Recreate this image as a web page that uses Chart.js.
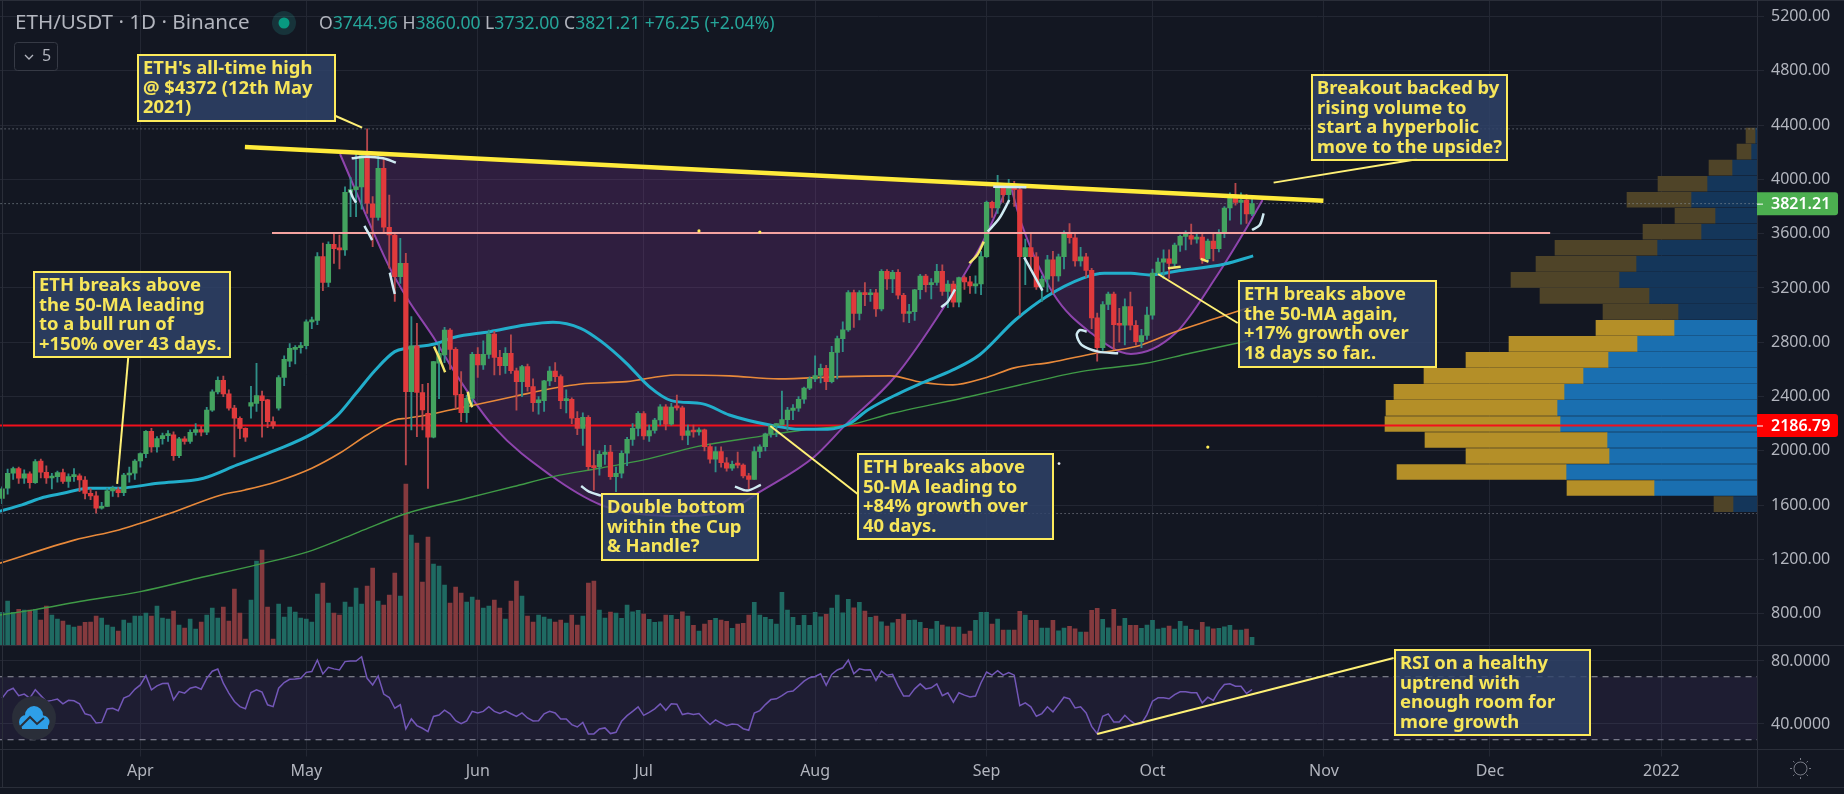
<!DOCTYPE html>
<html>
<head>
<meta charset="utf-8">
<title>ETH/USDT 1D</title>
<script src="https://cdn.jsdelivr.net/npm/chart.js@4"></script>
<style>
  html, body { margin: 0; padding: 0; background: #131722; overflow: hidden; }
  canvas { display: block; }
</style>
</head>
<body>
<canvas id="chart" width="1844" height="794"></canvas>
<script>
// x axis is "days since 1 Apr 2021"
const firstDay = -25;
const opens = [1650,1725,1835,1870,1798,1830,1765,1925,1842,1800,1810,1840,1775,1810,1815,1785,1687,1668,1577,1590,1705,1712,1692,1822,1835,
  1925,1980,2143,2028,2090,2112,2118,1965,2088,2070,2136,2157,2137,2300,2435,2520,2420,2315,2240,2165,2330,2350,2405,2375,2215,2315,2540,2660,2748,2760,
  2775,2950,2960,3431,3240,3522,3490,3480,3905,3925,3945,4175,3820,3720,4081,3647,3590,3283,3381,2436,2773,2430,2277,2100,2645,2706,2890,2748,2417,2281,2387,
  2711,2633,2711,2861,2689,2628,2718,2590,2510,2620,2473,2355,2370,2515,2588,2547,2370,2380,2240,2166,2247,1884,1884,1974,1990,1810,1835,1982,2085,2166,
  2275,2110,2150,2227,2325,2197,2322,2316,2114,2147,2139,2155,2031,1938,1995,1912,1873,1900,1895,1815,1790,1995,2030,2125,2187,2191,2230,2297,2315,2380,2462,
  2530,2555,2608,2510,2725,2827,2891,3166,3012,3166,3150,3165,3046,3322,3267,3315,3146,3012,3025,3187,3287,3225,3240,3322,3175,3228,3095,3277,3245,3215,3230,
  3431,3830,3790,3940,3887,3950,3925,3430,3497,3430,3208,3265,3408,3288,3430,3608,3570,3400,3430,3330,2980,2760,3078,3155,2930,2925,3063,2925,2805,2850,
  3000,3310,3390,3415,3380,3515,3580,3585,3560,3575,3415,3545,3490,3604,3789,3870,3830,3848,3744.96];
const highs = [1735,1865,1880,1880,1860,1845,1935,1940,1890,1835,1850,1865,1830,1870,1830,1810,1720,1700,1620,1725,1740,1730,1835,1880,1935,
  1985,2150,2165,2105,2130,2150,2140,2100,2105,2155,2200,2180,2320,2450,2545,2550,2450,2335,2250,2170,2475,2645,2440,2380,2250,2555,2700,2790,2775,2800,
  2965,2985,3460,3530,3540,3607,3590,3945,4015,4204,4185,4372,3873,4180,4150,3885,3610,3566,3455,2990,2940,2490,2497,2660,2790,2910,2900,2760,2584,2410,2725,
  2760,2810,2890,2880,2740,2760,2854,2610,2630,2640,2530,2400,2520,2620,2650,2560,2450,2390,2290,2280,2260,2006,2000,2040,2040,1880,2000,2100,2200,2290,
  2290,2190,2240,2340,2340,2350,2410,2330,2190,2190,2170,2160,2050,2030,2030,1950,1925,1990,1905,1835,2030,2045,2130,2190,2200,2440,2320,2340,2400,2470,2545,
  2700,2640,2630,2770,2845,2950,3180,3185,3180,3240,3190,3190,3335,3335,3330,3335,3160,3080,3190,3300,3300,3270,3375,3370,3255,3250,3280,3290,3285,3290,3470,
  3840,3840,4030,3965,4000,3985,3945,3560,3600,3460,3290,3440,3470,3450,3620,3675,3600,3500,3455,3345,3015,3100,3170,3170,3050,3120,3170,2960,2895,3060,
  3340,3420,3480,3480,3530,3590,3620,3670,3610,3600,3560,3600,3630,3800,3900,3970,3900,3890,3860];
const lows = [1610,1680,1790,1760,1760,1725,1760,1800,1760,1720,1770,1760,1730,1775,1700,1645,1640,1540,1570,1590,1665,1660,1670,1770,1790,
  1880,1950,1990,1990,2050,2070,1930,1950,2050,2055,2115,2110,2120,2290,2420,2400,2300,1955,2090,2070,2240,2290,2100,2170,2165,2300,2480,2620,2640,2720,
  2750,2900,2930,3180,3210,3380,3340,3440,3725,3725,3780,3750,3504,3700,3600,3345,3100,3234,1896,2154,2105,2154,1724,2095,2385,2650,2600,2310,2215,2210,2330,
  2540,2600,2680,2560,2560,2570,2571,2300,2400,2440,2290,2270,2290,2480,2510,2310,2280,2200,2120,2040,1860,1711,1820,1900,1790,1700,1800,1890,2040,2110,
  2085,2070,2130,2190,2155,2190,2300,2080,2045,2100,2115,2000,1910,1845,1880,1850,1855,1875,1800,1720,1790,1950,2000,2100,2105,2190,2150,2230,2290,2350,2450,
  2510,2500,2450,2500,2530,2730,2880,2910,2965,3070,3100,2990,3030,3190,3165,3120,2950,2945,2960,3120,3170,3120,3220,3145,3055,3060,3060,3190,3160,3160,3150,
  3425,3720,3750,3830,3830,3800,3000,3225,3330,3190,3100,3170,3160,3250,3340,3530,3360,3360,3280,2900,2660,2740,3040,2745,2800,2780,2890,2780,2760,2820,
  2970,3290,3270,3270,3350,3470,3480,3520,3530,3380,3390,3400,3465,3570,3700,3810,3670,3675,3732];
const closes = [1720,1835,1870,1798,1830,1765,1920,1842,1800,1810,1840,1775,1810,1815,1785,1687,1668,1577,1590,1705,1725,1692,1822,1835,1925,
  1980,2143,2028,2090,2112,2120,1965,2088,2070,2136,2157,2137,2300,2435,2520,2420,2315,2240,2165,2100,2355,2407,2370,2215,2186,2540,2675,2755,2760,2775,
  2950,2960,3431,3240,3522,3490,3480,3905,3925,3945,4175,3825,3720,4081,3647,3590,3283,3381,2436,2773,2430,2301,2100,2657,2718,2890,2748,2412,2281,2387,2711,
  2633,2711,2861,2689,2628,2718,2590,2510,2620,2473,2355,2375,2515,2588,2547,2370,2380,2240,2166,2247,1884,1876,1974,1990,1810,1835,1982,2085,2166,2277,
  2110,2150,2227,2325,2197,2322,2316,2114,2147,2139,2155,2031,1938,1995,1912,1873,1900,1895,1815,1790,1995,2030,2125,2187,2191,2230,2300,2315,2380,2462,2530,
  2555,2608,2510,2725,2827,2891,3166,3012,3166,3150,3165,3046,3322,3267,3315,3146,3012,3025,3187,3287,3225,3240,3322,3175,3228,3095,3277,3245,3215,3230,3431,
  3830,3790,3940,3887,3950,3925,3430,3497,3430,3208,3265,3408,3288,3430,3608,3570,3400,3430,3330,2980,2760,3078,3155,2930,2925,3063,2925,2805,2850,3000,
  3310,3390,3415,3380,3515,3580,3585,3560,3575,3415,3545,3490,3604,3789,3870,3830,3848,3745,3821.21];

// thousands of ETH
const volumes = [1230,1652,1230,1341,1317,1317,1341,944,1466,1130,981,907,758,683,720,857,869,1093,1018,758,683,534,944,832,1093,
  1093,1205,1093,1466,1018,981,1279,758,646,981,609,869,1130,1391,1018,1428,907,2099,1205,236,1689,3142,3552,1428,236,1540,1056,1428,1242,1018,
  981,869,1913,2323,1577,1205,1130,1615,1428,2136,1540,2211,2881,1652,1503,1875,2695,1838,6011,4111,3813,2360,4037,3030,2956,2248,1577,2174,1950,1615,1801,
  1689,1391,1466,1689,1391,981,1652,2397,1838,1093,869,1130,1056,981,869,944,832,1130,758,1093,2323,2397,1317,1018,1242,1205,1006,1503,1254,1304,
  1167,969,857,882,1130,1118,969,1254,1093,745,534,795,932,1006,944,894,633,795,820,1130,1602,1130,1043,969,795,1975,1317,1043,745,1118,745,
  1230,1068,1155,1391,1875,1217,1714,1403,1602,1279,1043,1093,882,720,845,969,1167,932,944,857,633,609,894,758,696,683,683,422,534,932,1230,
  1230,795,981,571,571,571,1267,1130,932,932,646,646,932,546,646,708,621,497,497,1304,1379,969,658,1341,720,1006,745,745,633,758,
  932,609,646,720,609,894,720,596,571,857,696,621,633,696,745,571,571,609,298];

const rsiValues = [56.4,61,62.7,58,59,56.4,61.7,58,54.3,55,55.8,52.8,55,54.7,52.8,46.5,45.5,40.6,41,49.5,50,48.4,56.4,58,62,
  64.8,70.7,61.7,64.2,65.7,65.9,55.4,60.6,59.6,62.7,63.6,62.1,69,73.5,74.9,65.9,59.6,54.3,51,49.7,60,61.7,60.2,52.2,51,62.7,66.3,68.4,68.6,69,
  72.8,73.3,80.6,71.8,76,75,74.3,79.6,80,80,82.7,69,64.8,70.5,59,56.8,50,52.2,36.8,43.2,39,37.3,35.2,44.8,45.7,48.8,46.5,42.1,40.2,41.9,48,
  47,48,51,48,46.7,48.4,46.5,44.8,47,43.8,41.9,42.1,46.5,48,47,43.2,43.2,39.6,38.1,41,33.7,33.7,36.8,37.5,33.9,34.7,41.7,45.3,48,50.9,
  45.5,47.4,49.6,52.8,48.7,52.8,52.6,46,46.8,46,46.6,42.8,39.6,42.6,40.6,38.9,40,39.6,37,36,47,48.5,52.3,55.5,56,58,60.4,60.9,64,67.2,69.4,
  70.2,71.9,64.5,71.5,74.3,75.7,80.6,71.9,75,74.3,74.5,67.7,73.6,70.9,71.5,64,57.7,57.7,62.3,65.5,62.3,63,65.5,58,59.8,53.8,59.8,58.3,57.2,57.7,66.2,
  73,71,73.8,71,72.6,71,51.7,53.4,50.9,44.9,46.6,50.9,47.7,52.3,57,56,50.2,50.9,47,38.5,33.8,44.9,46.4,41.3,41.3,45.5,42.1,39.6,40.2,46,
  54.5,56.6,56.6,56,58.7,60.4,60.4,59.8,59.8,53.4,57,55,60.9,65.1,65.5,64,64,59.4,61.9];

// moving averages, read at sampled days as [day, price]
const ma50 = [[-25.4,1555],[-21.4,1602],[-17.5,1658],[-14,1687],[-9.3,1724],[-4.6,1724],[3.2,1761],[11.4,1798],[17.5,1896],[24.6,2007],[31,2125],[35.4,2252],[39,2424],[42.5,2596],[46,2731],[48.2,2756],[53.2,2787],[56.8,2837],[63.2,2878],[69.6,2927],[74.6,2947],[79.6,2903],[83.2,2810],[87.9,2645],[92,2473],[96,2370],[101.7,2346],[106.5,2264],[113.8,2190],[119.4,2159],[124.3,2159],[128.3,2203],[131.5,2301],[137.2,2424],[141.2,2498],[146.9,2596],[151.7,2706],[158.2,2964],[163.8,3136],[170.3,3271],[174.3,3308],[179.1,3308],[182.4,3296],[188,3328],[196.1,3377],[201.2,3436]];
const ma100 = [[-25.4,1172],[-11.8,1344],[-3.9,1417],[5.4,1540],[14.6,1675],[18.9,1712],[24.6,1773],[31,1872],[36,1982],[41,2117],[46,2228],[48.2,2240],[51.8,2264],[56,2301],[60.4,2338],[67.5,2400],[74.6,2461],[79.6,2493],[87.9,2510],[96.8,2559],[106.5,2552],[115.4,2530],[126.7,2547],[135.6,2552],[141.2,2505],[146.9,2486],[152.5,2535],[158.2,2613],[164.6,2652],[172.7,2719],[180,2768],[186.4,2866],[194.5,2976],[200.9,3062]];
const ma200 = [[-25.4,791],[-19,830],[-11,890],[0,963],[10.4,1061],[21,1160],[30.4,1258],[36,1344],[40.4,1417],[48.2,1540],[59,1651],[67.5,1737],[74.6,1810],[83,1872],[91,1933],[100.6,2031],[111.8,2105],[119.8,2154],[128,2190],[136,2277],[150,2400],[159,2485],[170,2584],[181.8,2645],[189.8,2719],[200.5,2812]];

// cup & handle arcs and the resistance line, [day, price]
const cupArc = [[36.1,4187],[45,3355],[48.2,3126],[53.3,2817],[56.9,2574],[63.9,2176],[74.1,1822],[83.3,1601],[90.3,1535],[98.5,1520],[106.6,1564],[111.7,1690],[121.8,1955],[127.5,2191],[136.4,2544],[145.3,3060],[152.5,3554],[156.7,3937]];
const handleArc = [[157.4,3944],[159.4,3664],[165,3163],[171.9,2868],[179.1,2714],[187.2,2868],[194.5,3281],[200.1,3649],[202.9,3848]];
const resistance = [[18.9,4239],[213.9,3843]];
const supportLine = [[23.8,3605],[254.9,3605]];
const rsiTrend = [[173,33.6],[226.6,81.9]];

const paleStrokes = [
  [[38.2,4155],[40.9,4167],[43.9,4155],[46.2,4123]],
  [[37.9,3922],[38.4,3868],[39,3828]],
  [[40.5,3657],[41.2,3607],[41.9,3553]],
  [[45.1,3313],[45.6,3222],[46,3156]],
  [[79.7,1741],[81.1,1699],[83.3,1670]],
  [[107.5,1736],[109.7,1707],[112.2,1749]],
  [[144.8,3058],[146,3099],[147.3,3190]],
  [[153.2,3615],[155.3,3713],[157.1,3848]],
  [[154.2,3946],[160.2,3942]],
  [[159.8,3426],[161.4,3308],[163.1,3180]],
  [[171.1,2878],[169.9,2890],[169.3,2854],[170.2,2780],[173.2,2731],[176.8,2719]],
  [[201,3627],[202.4,3664],[203.1,3750]],
];
const yellowStrokes = [
  [[53.1,2768],[54.2,2670],[55.1,2579]],
  [[59.2,2436],[59.5,2375],[60,2321]],
  [[149.9,3382],[151.3,3443],[152.5,3541]],
  [[185.8,3345],[188.1,3357]],
  [[191.7,3414],[193.1,3394]],
];
const connectors = [
  [[35.2,4469],[40.1,4381]],
  [[-2.2,2684],[-4.2,1756]],
  [[113.9,2183],[129.7,1682]],
  [[184,3303],[198.4,2942]],
  [[204.9,3976],[230.8,4148]],
];
const yellowDots = [[101,3620],[112,3612],[193,2028]];
const whiteDots = [[166.1,1906]];

// volume profile rows, top to bottom
const profilePrices = [4322,4204,4086,3968,3850,3732,3614,3496,3378,3260,3142,3024,2906,2788,2670,2552,2434,2316,2198,2080,1962,1844,1726,1608];
const profileUp = [2,6,25,50,66,42,56,100,121,138,108,79,83,120,149,174,193,200,197,150,148,191,103,24];
const profileDown = [9,14,23,49,64,40,58,102,100,108,109,75,78,128,142,159,170,171,175,182,143,169,87,19];
const profileDim = [1,1,1,1,1,1,1,1,1,1,1,1,0,0,0,0,0,0,0,0,0,0,0,1];

const priceTicks = [800,1200,1600,2000,2400,2800,3200,3600,4000,4400,4800,5200];
const rsiTicks = [40,80];
const rsiBands = [70,30];
const timeTicks = [0,30,61,91,122,153,183,214,244,275];
const timeLabels = ["Apr","May","Jun","Jul","Aug","Sep","Oct","Nov","Dec","2022"];

const lastPrice = 3821.21;
const redLevel = 2186.79;
const athLevel = 4372;
const lowLevel = 1538;

const callouts = [
  { left: 138, top: 55, width: 197, height: 66, lines: ["ETH's all-time high", "@ $4372 (12th May", "2021)"] },
  { left: 34, top: 272, width: 196, height: 85, lines: ["ETH breaks above", "the 50-MA leading", "to a bull run of", "+150% over 43 days."] },
  { left: 602, top: 494, width: 156, height: 66, lines: ["Double bottom", "within the Cup", "& Handle?"] },
  { left: 858, top: 454, width: 195, height: 85, lines: ["ETH breaks above", "50-MA leading to", "+84% growth over", "40 days."] },
  { left: 1312, top: 75, width: 195, height: 85, lines: ["Breakout backed by", "rising volume to", "start a hyperbolic", "move to the upside?"] },
  { left: 1239, top: 281, width: 197, height: 86, lines: ["ETH breaks above", "the 50-MA again,", "+17% growth over", "18 days so far.."] },
  { left: 1395, top: 650, width: 195, height: 85, lines: ["RSI on a healthy", "uptrend with", "enough room for", "more growth"] },
];

const axisFont = '"Noto Sans", sans-serif';
const gridColor = "#232733";
const axisText = "#b2b5be";

const days = opens.map((_, i) => firstDay + i);
const isUp = opens.map((o, i) => closes[i] >= o);
const xy = (pts) => pts.map(([x, y]) => ({ x, y }));

const datasets = [];
let nextOrder = 1;

function addLine(points, opts) {
  const ds = Object.assign({
    type: "line",
    data: xy(points),
    pointRadius: 0,
    borderWidth: 2,
    fill: false,
    tension: 0,
    xAxisID: "x",
    yAxisID: "y",
    order: nextOrder++,
  }, opts);
  datasets.push(ds);
  return datasets.length - 1;
}

// first dataset added ends up on top
connectors.forEach((c) => addLine(c, { borderColor: "#fff176", borderWidth: 2 }));
addLine(rsiTrend, { borderColor: "#fff176", borderWidth: 2, yAxisID: "yRsi" });
paleStrokes.forEach((s) => addLine(s, { borderColor: "#cfeaf2", borderWidth: 2.5, tension: 0.3 }));
yellowStrokes.forEach((s) => addLine(s, { borderColor: "#f5e66b", borderWidth: 2.5, tension: 0.3 }));
addLine(yellowDots, { showLine: false, pointRadius: 1.6, pointBackgroundColor: "#ffee58", pointBorderWidth: 0 });
addLine(whiteDots, { showLine: false, pointRadius: 1.4, pointBackgroundColor: "#e8eaf0", pointBorderWidth: 0 });
const resistanceIndex = addLine(resistance, { borderColor: "#ffeb3b", borderWidth: 4.5 });
addLine(supportLine, { borderColor: "#f4a3a0", borderWidth: 2 });

datasets.push({
  type: "bar",
  data: days.map((d, i) => ({ x: d, y: [Math.min(opens[i], closes[i]), Math.max(opens[i], closes[i])] })),
  backgroundColor: isUp.map((u) => (u ? "#43a35f" : "#e03a3c")),
  barThickness: 4.6,
  minBarLength: 2,
  grouped: false,
  xAxisID: "x",
  yAxisID: "y",
  order: nextOrder++,
});
datasets.push({
  type: "bar",
  data: days.map((d, i) => ({ x: d, y: [lows[i], highs[i]] })),
  backgroundColor: isUp.map((u) => (u ? "#2f8f88" : "#b5474c")),
  barThickness: 1.2,
  grouped: false,
  xAxisID: "x",
  yAxisID: "y",
  order: nextOrder++,
});

addLine(ma50, { borderColor: "#22aecb", borderWidth: 3, cubicInterpolationMode: "monotone" });
addLine(ma100, { borderColor: "#e8893a", borderWidth: 1.6, cubicInterpolationMode: "monotone" });
addLine(ma200, { borderColor: "#3f9a46", borderWidth: 1.4, cubicInterpolationMode: "monotone" });
addLine([[firstDay - 1, redLevel], [293, redLevel]], { borderColor: "#f2101c", borderWidth: 2 });
addLine([[firstDay - 1, lastPrice], [293, lastPrice]], { borderColor: "#8e9aa0", borderWidth: 1, borderDash: [1, 3] });
addLine([[firstDay - 1, athLevel], [293, athLevel]], { borderColor: "#8b8f9a", borderWidth: 1, borderDash: [1, 3] });
addLine([[firstDay - 1, lowLevel], [293, lowLevel]], { borderColor: "#8b8f9a", borderWidth: 1, borderDash: [1, 3] });

const arcFill = "rgba(158,58,178,0.2)";
addLine(cupArc, { borderColor: "#8e44ad", borderWidth: 2, cubicInterpolationMode: "monotone", fill: { target: resistanceIndex, above: arcFill, below: arcFill } });
addLine(handleArc, { borderColor: "#8e44ad", borderWidth: 2, cubicInterpolationMode: "monotone", fill: { target: resistanceIndex, above: arcFill, below: arcFill } });

// rsi pane
addLine(days.map((d, i) => [d, rsiValues[i]]), { borderColor: "#7357b8", borderWidth: 1.5, yAxisID: "yRsi" });
addLine([[firstDay - 1, rsiBands[0]], [293, rsiBands[0]]], { borderColor: "#9598a1", borderWidth: 1, borderDash: [6, 5], yAxisID: "yRsi", fill: { target: "+1", above: "rgba(126,87,194,0.1)", below: "rgba(126,87,194,0.1)" } });
addLine([[firstDay - 1, rsiBands[1]], [293, rsiBands[1]]], { borderColor: "#9598a1", borderWidth: 1, borderDash: [6, 5], yAxisID: "yRsi" });

// volume profile, blue from the right edge then gold after it
datasets.push({
  type: "bar",
  indexAxis: "y",
  data: profilePrices.map((p, i) => ({ x: [profileUp[i], profileUp[i] + profileDown[i]], y: p })),
  backgroundColor: profileDim.map((d) => (d ? "#4f4428" : "#b48f28")),
  barThickness: 15,
  grouped: false,
  xAxisID: "xProfile",
  yAxisID: "y",
  order: nextOrder++,
});
datasets.push({
  type: "bar",
  indexAxis: "y",
  data: profilePrices.map((p, i) => ({ x: [0, profileUp[i]], y: p })),
  backgroundColor: profileDim.map((d) => (d ? "#14365a" : "#1a6fb0")),
  barThickness: 15,
  grouped: false,
  xAxisID: "xProfile",
  yAxisID: "y",
  order: nextOrder++,
});

datasets.push({
  type: "bar",
  data: days.map((d, i) => ({ x: d, y: volumes[i] })),
  backgroundColor: isUp.map((u) => (u ? "#1f6a62" : "#853a3e")),
  barThickness: 4,
  grouped: false,
  xAxisID: "x",
  yAxisID: "yVol",
  order: nextOrder++,
});

function roundedBox(ctx, x, y, w, h, r) {
  ctx.beginPath();
  ctx.roundRect(x, y, w, h, r);
}

function priceTag(ctx, chart, value, color) {
  const y = chart.scales.y.getPixelForValue(value);
  const left = chart.chartArea.right;
  ctx.fillStyle = color;
  roundedBox(ctx, left, y - 11.5, 81, 23, [0, 3, 3, 0]);
  ctx.fill();
  ctx.strokeStyle = "#ffffff";
  ctx.lineWidth = 1;
  ctx.beginPath();
  ctx.moveTo(left, y + 0.5);
  ctx.lineTo(left + 6, y + 0.5);
  ctx.stroke();
  ctx.fillStyle = "#ffffff";
  ctx.font = '600 16px ' + axisFont;
  ctx.textAlign = "left";
  ctx.textBaseline = "middle";
  ctx.fillText(value.toFixed(2), left + 14, y + 0.5);
}

function drawHeader(ctx) {
  ctx.textBaseline = "middle";
  ctx.textAlign = "left";
  ctx.fillStyle = axisText;
  ctx.font = "20.6px " + axisFont;
  ctx.fillText("ETH/USDT · 1D · Binance", 15, 23);

  ctx.fillStyle = "rgba(38,166,154,0.2)";
  ctx.beginPath();
  ctx.arc(284, 23, 12, 0, Math.PI * 2);
  ctx.fill();
  ctx.fillStyle = "#089981";
  ctx.beginPath();
  ctx.arc(284, 23, 5.5, 0, Math.PI * 2);
  ctx.fill();

  const parts = [["O", axisText], ["3744.96", "#26a69a"], [" H", axisText], ["3860.00", "#26a69a"], [" L", axisText], ["3732.00", "#26a69a"], [" C", axisText], ["3821.21", "#26a69a"], [" +76.25 (+2.04%)", "#26a69a"]];
  ctx.font = "17.6px " + axisFont;
  let x = 319;
  parts.forEach(([text, color]) => {
    ctx.fillStyle = color;
    ctx.fillText(text, x, 24);
    x += ctx.measureText(text).width;
  });

  // collapsed indicators button
  ctx.strokeStyle = "#363a45";
  ctx.lineWidth = 1;
  roundedBox(ctx, 14.5, 42.5, 43, 28, 3);
  ctx.stroke();
  ctx.strokeStyle = axisText;
  ctx.lineWidth = 1.3;
  ctx.beginPath();
  ctx.moveTo(25, 55);
  ctx.lineTo(29, 59);
  ctx.lineTo(33, 55);
  ctx.stroke();
  ctx.fillStyle = axisText;
  ctx.font = "16px " + axisFont;
  ctx.fillText("5", 42, 56);
}

function drawCallouts(ctx) {
  callouts.forEach((c) => {
    ctx.fillStyle = "rgba(48,67,106,0.82)";
    ctx.fillRect(c.left, c.top, c.width, c.height);
    ctx.strokeStyle = "#fdeb5b";
    ctx.lineWidth = 2;
    ctx.strokeRect(c.left, c.top, c.width, c.height);
    ctx.fillStyle = "#f7e65a";
    ctx.font = 'bold 18.4px ' + axisFont;
    ctx.textAlign = "left";
    ctx.textBaseline = "middle";
    c.lines.forEach((line, i) => ctx.fillText(line, c.left + 5, c.top + 14 + i * 19.5));
  });
}

function drawIcons(ctx) {
  // cloud badge, bottom left
  ctx.fillStyle = "#2a2e39";
  ctx.beginPath();
  ctx.ellipse(34, 718, 22, 22, 0, 0, Math.PI * 2);
  ctx.fill();
  ctx.fillStyle = "#2e9fe8";
  ctx.beginPath();
  ctx.arc(26, 722, 7, 0, Math.PI * 2);
  ctx.arc(34, 715, 9, 0, Math.PI * 2);
  ctx.arc(43, 722, 6.5, 0, Math.PI * 2);
  ctx.rect(22, 722, 26, 7);
  ctx.fill();
  ctx.strokeStyle = "#2a2e39";
  ctx.lineWidth = 2;
  ctx.beginPath();
  ctx.moveTo(20, 727);
  ctx.lineTo(30, 717);
  ctx.lineTo(37, 724);
  ctx.lineTo(44, 718);
  ctx.stroke();

  // sun, bottom right
  ctx.strokeStyle = "#787b86";
  ctx.lineWidth = 1;
  ctx.beginPath();
  ctx.arc(1800.5, 768.5, 6.5, 0, Math.PI * 2);
  ctx.stroke();
  for (let i = 0; i < 8; i++) {
    const a = (i * Math.PI) / 4;
    ctx.beginPath();
    ctx.moveTo(1800.5 + Math.cos(a) * 8.5, 768.5 + Math.sin(a) * 8.5);
    ctx.lineTo(1800.5 + Math.cos(a) * 10.5, 768.5 + Math.sin(a) * 10.5);
    ctx.stroke();
  }
}

const chrome = {
  id: "chrome",
  beforeDraw(chart) {
    const ctx = chart.ctx;
    ctx.save();
    ctx.fillStyle = "#131722";
    ctx.fillRect(0, 0, chart.width, chart.height);
    ctx.restore();
  },
  afterDraw(chart) {
    const ctx = chart.ctx;
    const area = chart.chartArea;
    const paneLine = Math.round(chart.scales.y.bottom) + 0.5;
    ctx.save();
    ctx.strokeStyle = "#2a2e39";
    ctx.lineWidth = 1;
    [[0, 787.5, chart.width, 787.5], [0, paneLine, chart.width, paneLine], [0, area.bottom, chart.width, area.bottom], [area.right + 0.5, 0, area.right + 0.5, 787], [2.5, 0, 2.5, 787], [0, 0.5, chart.width, 0.5]].forEach(([a, b, c, d]) => {
      ctx.beginPath();
      ctx.moveTo(a, b);
      ctx.lineTo(c, d);
      ctx.stroke();
    });
    drawCallouts(ctx);
    drawHeader(ctx);
    priceTag(ctx, chart, lastPrice, "#4caf50");
    priceTag(ctx, chart, redLevel, "#ff0000");
    drawIcons(ctx);
    ctx.restore();
  },
};

// tick labels must not pull the plot area in, the panes run edge to edge
function fitRight(s) {
  s.width = 87;
  s.paddingTop = 0;
  s.paddingBottom = 0;
}
function fitBottom(s) {
  s.height = 37.5;
  s.paddingLeft = 0;
  s.paddingRight = 0;
}

new Chart(document.getElementById("chart"), {
  type: "bar",
  data: { datasets },
  plugins: [chrome],
  options: {
    responsive: false,
    animation: false,
    devicePixelRatio: 1,
    layout: { autoPadding: false, padding: { left: 0, right: 0, top: 0, bottom: 7 } },
    plugins: { legend: { display: false }, tooltip: { enabled: false } },
    scales: {
      x: {
        type: "linear",
        position: "bottom",
        offset: false,
        min: -25.38,
        max: 292.3,
        afterFit: fitBottom,
        afterBuildTicks: (s) => { s.ticks = timeTicks.map((v) => ({ value: v })); },
        grid: { color: gridColor, tickColor: gridColor, tickLength: 7, offset: false },
        border: { color: gridColor },
        ticks: {
          autoSkip: false,
          maxRotation: 0,
          color: axisText,
          padding: 5,
          font: { family: axisFont, size: 16 },
          callback: (v) => timeLabels[timeTicks.indexOf(v)],
        },
      },
      y: {
        type: "linear",
        position: "right",
        offset: false,
        stack: "panes",
        stackWeight: 645.4,
        weight: 1,
        min: 566.6,
        max: 5321.5,
        afterFit: fitRight,
        afterBuildTicks: (s) => { s.ticks = priceTicks.map((v) => ({ value: v })); },
        grid: { color: gridColor, tickColor: gridColor, tickLength: 7, offset: false },
        border: { color: gridColor },
        ticks: {
          autoSkip: false,
          color: axisText,
          padding: 7,
          font: { family: axisFont, size: 16 },
          callback: (v) => v.toFixed(2),
        },
      },
      yRsi: {
        type: "linear",
        position: "right",
        offset: false,
        stack: "panes",
        stackWeight: 104.1,
        weight: 2,
        min: 23.8,
        max: 89.9,
        afterFit: fitRight,
        afterBuildTicks: (s) => { s.ticks = rsiTicks.map((v) => ({ value: v })); },
        grid: { color: gridColor, tickColor: gridColor, tickLength: 7, offset: false },
        border: { color: gridColor },
        ticks: {
          autoSkip: false,
          color: axisText,
          padding: 7,
          font: { family: axisFont, size: 16 },
          callback: (v) => v.toFixed(4),
        },
      },
      yVol: { type: "linear", offset: false, display: false, min: -3880, max: 24054 },
      xProfile: { type: "linear", offset: false, display: false, reverse: true, min: 0, max: 1757 },
    },
  },
});
</script>
</body>
</html>
